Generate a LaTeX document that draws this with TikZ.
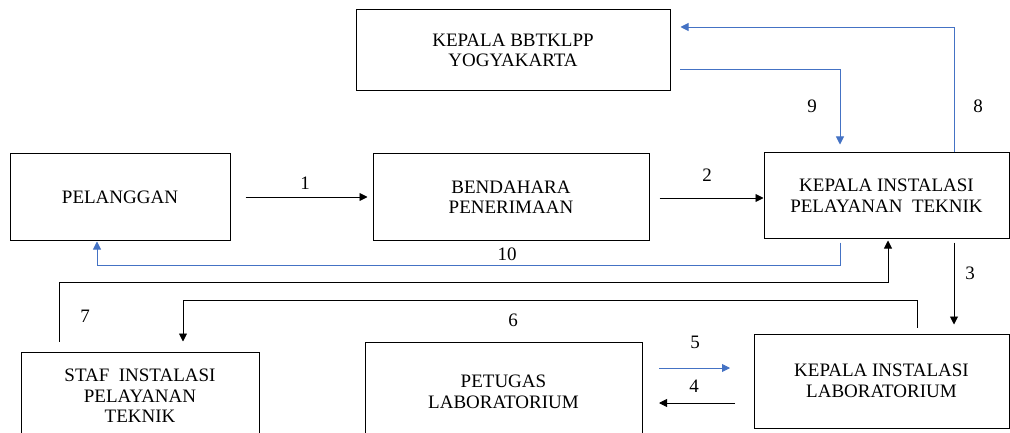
\documentclass[tikz,border=0pt]{standalone}
\usepackage{fontspec}
\setmainfont{Liberation Serif}
\usetikzlibrary{arrows.meta}
\definecolor{flowblue}{RGB}{68,114,196}
\begin{document}
\begin{tikzpicture}[x=1pt,y=-1pt,
  box/.style={draw=black, line width=1pt, rectangle, inner sep=0pt, align=center,
    font=\fontsize{19}{20.5}\selectfont},
  lbl/.style={inner sep=0pt, font=\fontsize{19}{20.5}\selectfont},
  blk/.style={draw=black, line width=0.9pt, -{Triangle[length=8pt,width=8pt]}},
  blu/.style={draw=flowblue, line width=0.9pt, -{Triangle[length=8pt,width=8pt]}}]
\useasboundingbox (0,0) rectangle (1010,433);
\clip (0,0) rectangle (1010,433);
\fill[white] (0,0) rectangle (1010,433);

% boxes
\node[box, minimum width=314, minimum height=81] (bb) at (513,50.5) {KEPALA BBTKLPP\\YOGYAKARTA};
\node[box, minimum width=220, minimum height=86] (pel) at (120,197) {PELANGGAN};
\node[box, minimum width=276, minimum height=86] (ben) at (511,197) {BENDAHARA\\PENERIMAAN};
\node[box, minimum width=245, minimum height=85] (kip) at (886.5,195.5) {KEPALA INSTALASI\\PELAYANAN\ \ TEKNIK};
\node[box, minimum width=238, minimum height=88] (staf) at (140,396) {STAF\ \ INSTALASI\\PELAYANAN\\TEKNIK};
\node[box, minimum width=277, minimum height=100] (pet) at (503.5,392) {PETUGAS\\LABORATORIUM};
\node[box, minimum width=255, minimum height=94] (kil) at (881.5,381) {KEPALA INSTALASI\\LABORATORIUM};

% corner coordinates
\coordinate (c9a) at (680,69);
\coordinate (c9b) at (840,69);
\coordinate (c8b) at (954,27);
\coordinate (c10a) at (840,265);
\coordinate (c10b) at (97,265);
\coordinate (c7a) at (59,282);
\coordinate (c7b) at (888,282);
\coordinate (c6a) at (917,300);
\coordinate (c6b) at (183,300);
\coordinate (c3) at (954,260);

% connectors
\draw[blk] ([xshift=15pt]pel.east) -- ([xshift=-5pt]ben.west);
\draw[blk] ([xshift=10pt,yshift=-1pt]ben.east) -- ([yshift=-2.5pt]kip.west);
\draw[blu] (c9a) -- (c9b) -- ([yshift=8pt]c9b |- kip.north);
\draw[blu] (c8b |- kip.north) -- (c8b) -- ([xshift=10pt]bb.east |- c8b);
\draw[blu] ([yshift=-4pt]c10a |- kip.south) -- (c10a) -- (c10b) -- ([yshift=-1pt]c10b |- pel.south);
\draw[blk] ([yshift=10pt]c7a |- staf.north) -- (c7a) -- (c7b) -- ([yshift=-2pt]c7b |- kip.south);
\draw[blk] ([yshift=6pt]c6a |- kil.north) -- (c6a) -- (c6b) -- ([yshift=10pt]c6b |- staf.north);
\draw[blk] ([yshift=-4pt]c3 |- kip.south) -- ([yshift=9pt]c3 |- kil.north);
\coordinate (a5s) at (659,368);
\coordinate (a5e) at (730,368);
\coordinate (a4s) at (735,403);
\coordinate (a4e) at (659,403);
\draw[blu] (a5s) -- (a5e);
\draw[blk] (a4s) -- (a4e);

% labels
\node[lbl] (l1) at (305,183) {1};
\node[lbl] (l2) at (707,175) {2};
\node[lbl] (l3) at (970,273) {3};
\node[lbl] (l4) at (694,386) {4};
\node[lbl] (l5) at (695,342) {5};
\node[lbl] (l6) at (513,320) {6};
\node[lbl] (l7) at (85,316) {7};
\node[lbl] (l8) at (978,106) {8};
\node[lbl] (l9) at (812,106) {9};
\node[lbl] (l10) at (507,254) {10};
\end{tikzpicture}
\end{document}
